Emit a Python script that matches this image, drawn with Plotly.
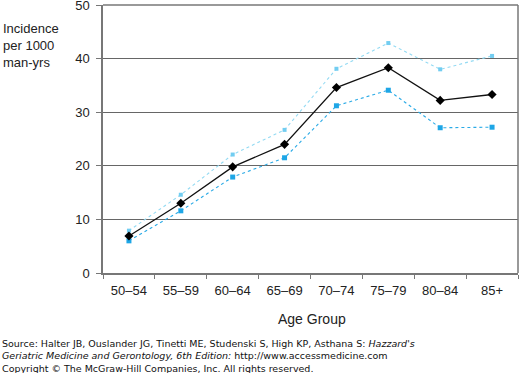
import plotly.graph_objects as go

age_groups = ["50–54", "55–59", "60–64", "65–69", "70–74", "75–79", "80–84", "85+"]
incidence = [6.9, 13.0, 19.8, 24.0, 34.6, 38.3, 32.2, 33.3]
upper_ci = [7.9, 14.6, 22.1, 26.7, 38.1, 42.9, 38.0, 40.5]
lower_ci = [6.0, 11.6, 17.9, 21.5, 31.2, 34.1, 27.1, 27.2]
y_ticks = [0, 10, 20, 30, 40, 50]

W, H = 520, 373
L, R, T, B = 103, 2, 5, 100
pw = W - L - R
ph = H - T - B

fig = go.Figure()
fig.add_trace(go.Scatter(x=age_groups, y=upper_ci, mode="lines+markers",
                         line=dict(color="#93daf3", width=1.1, dash="dot"),
                         marker=dict(symbol="square", size=4, color="#72cdf1")))
fig.add_trace(go.Scatter(x=age_groups, y=lower_ci, mode="lines+markers",
                         line=dict(color="#2aaae6", width=1.1, dash="dot"),
                         marker=dict(symbol="square", size=5, color="#1ea6e6")))
fig.add_trace(go.Scatter(x=age_groups, y=incidence, mode="lines+markers",
                         line=dict(color="#111111", width=1.3),
                         marker=dict(symbol="diamond", size=7, color="#000000")))

font_main = "Liberation Sans, Arial, sans-serif"

fig.update_layout(
    width=W, height=H,
    margin=dict(l=L, r=R, t=T, b=B, autoexpand=False),
    paper_bgcolor="white", plot_bgcolor="white",
    showlegend=False,
    font=dict(family=font_main, size=13, color="#222"),
    xaxis=dict(type="category", tickson="boundaries", ticks="outside", ticklen=4,
               tickcolor="#777", showline=True, linecolor="#777", linewidth=1.5,
               showgrid=False, tickfont=dict(size=13, color="#222"),
               range=[-0.5, 7.5], automargin=False, ticklabelstandoff=5),
    yaxis=dict(range=[0, 50], tickvals=y_ticks, ticks="outside", ticklen=5,
               tickcolor="#777", showline=True, linecolor="#777", linewidth=1.5,
               showgrid=True, gridcolor="#666", gridwidth=1, automargin=False,
               ticklabeloverflow="allow", ticklabelstandoff=4,
               tickfont=dict(size=13, color="#222"), zeroline=False),
)

# frame top and right
fig.add_shape(type="line", xref="paper", yref="paper", x0=0, x1=1, y0=1, y1=1,
              line=dict(color="#777", width=1.5))
fig.add_shape(type="line", xref="paper", yref="paper", x0=1, x1=1, y0=0, y1=1,
              line=dict(color="#777", width=1.5))

def px(x):
    return (x - L) / pw

def py(y):
    return (H - B - y) / ph

fig.add_annotation(text="Incidence<br>per 1000<br>man-yrs", xref="paper", yref="paper",
                   x=px(1), y=py(19), xanchor="left", yanchor="top", align="left",
                   showarrow=False, font=dict(size=13, color="#222", family=font_main))
fig.add_annotation(text="Age Group", xref="paper", yref="paper",
                   x=px(312), y=py(319), xanchor="center", yanchor="middle",
                   showarrow=False, font=dict(size=14, color="#222", family=font_main))

src_font = dict(family="DejaVu Sans, Verdana, sans-serif", size=9.5, color="#111")
fig.add_annotation(text="Source: Halter JB, Ouslander JG, Tinetti ME, Studenski S, High KP, Asthana S: <i>Hazzard's</i><br>"
                        "<i>Geriatric Medicine and Gerontology, 6th Edition:</i> http://www.accessmedicine.com",
                   xref="paper", yref="paper", x=px(0), y=py(336), xanchor="left", yanchor="top",
                   align="left", showarrow=False, font=src_font)
fig.add_annotation(text="Copyright © The McGraw-Hill Companies, Inc. All rights reserved.",
                   xref="paper", yref="paper", x=px(0), y=py(368), xanchor="left", yanchor="middle",
                   align="left", showarrow=False, font=src_font)

fig.write_html("out.html", config={"displayModeBar": False},
               post_script="document.body.style.margin='0';document.body.style.padding='0';")
